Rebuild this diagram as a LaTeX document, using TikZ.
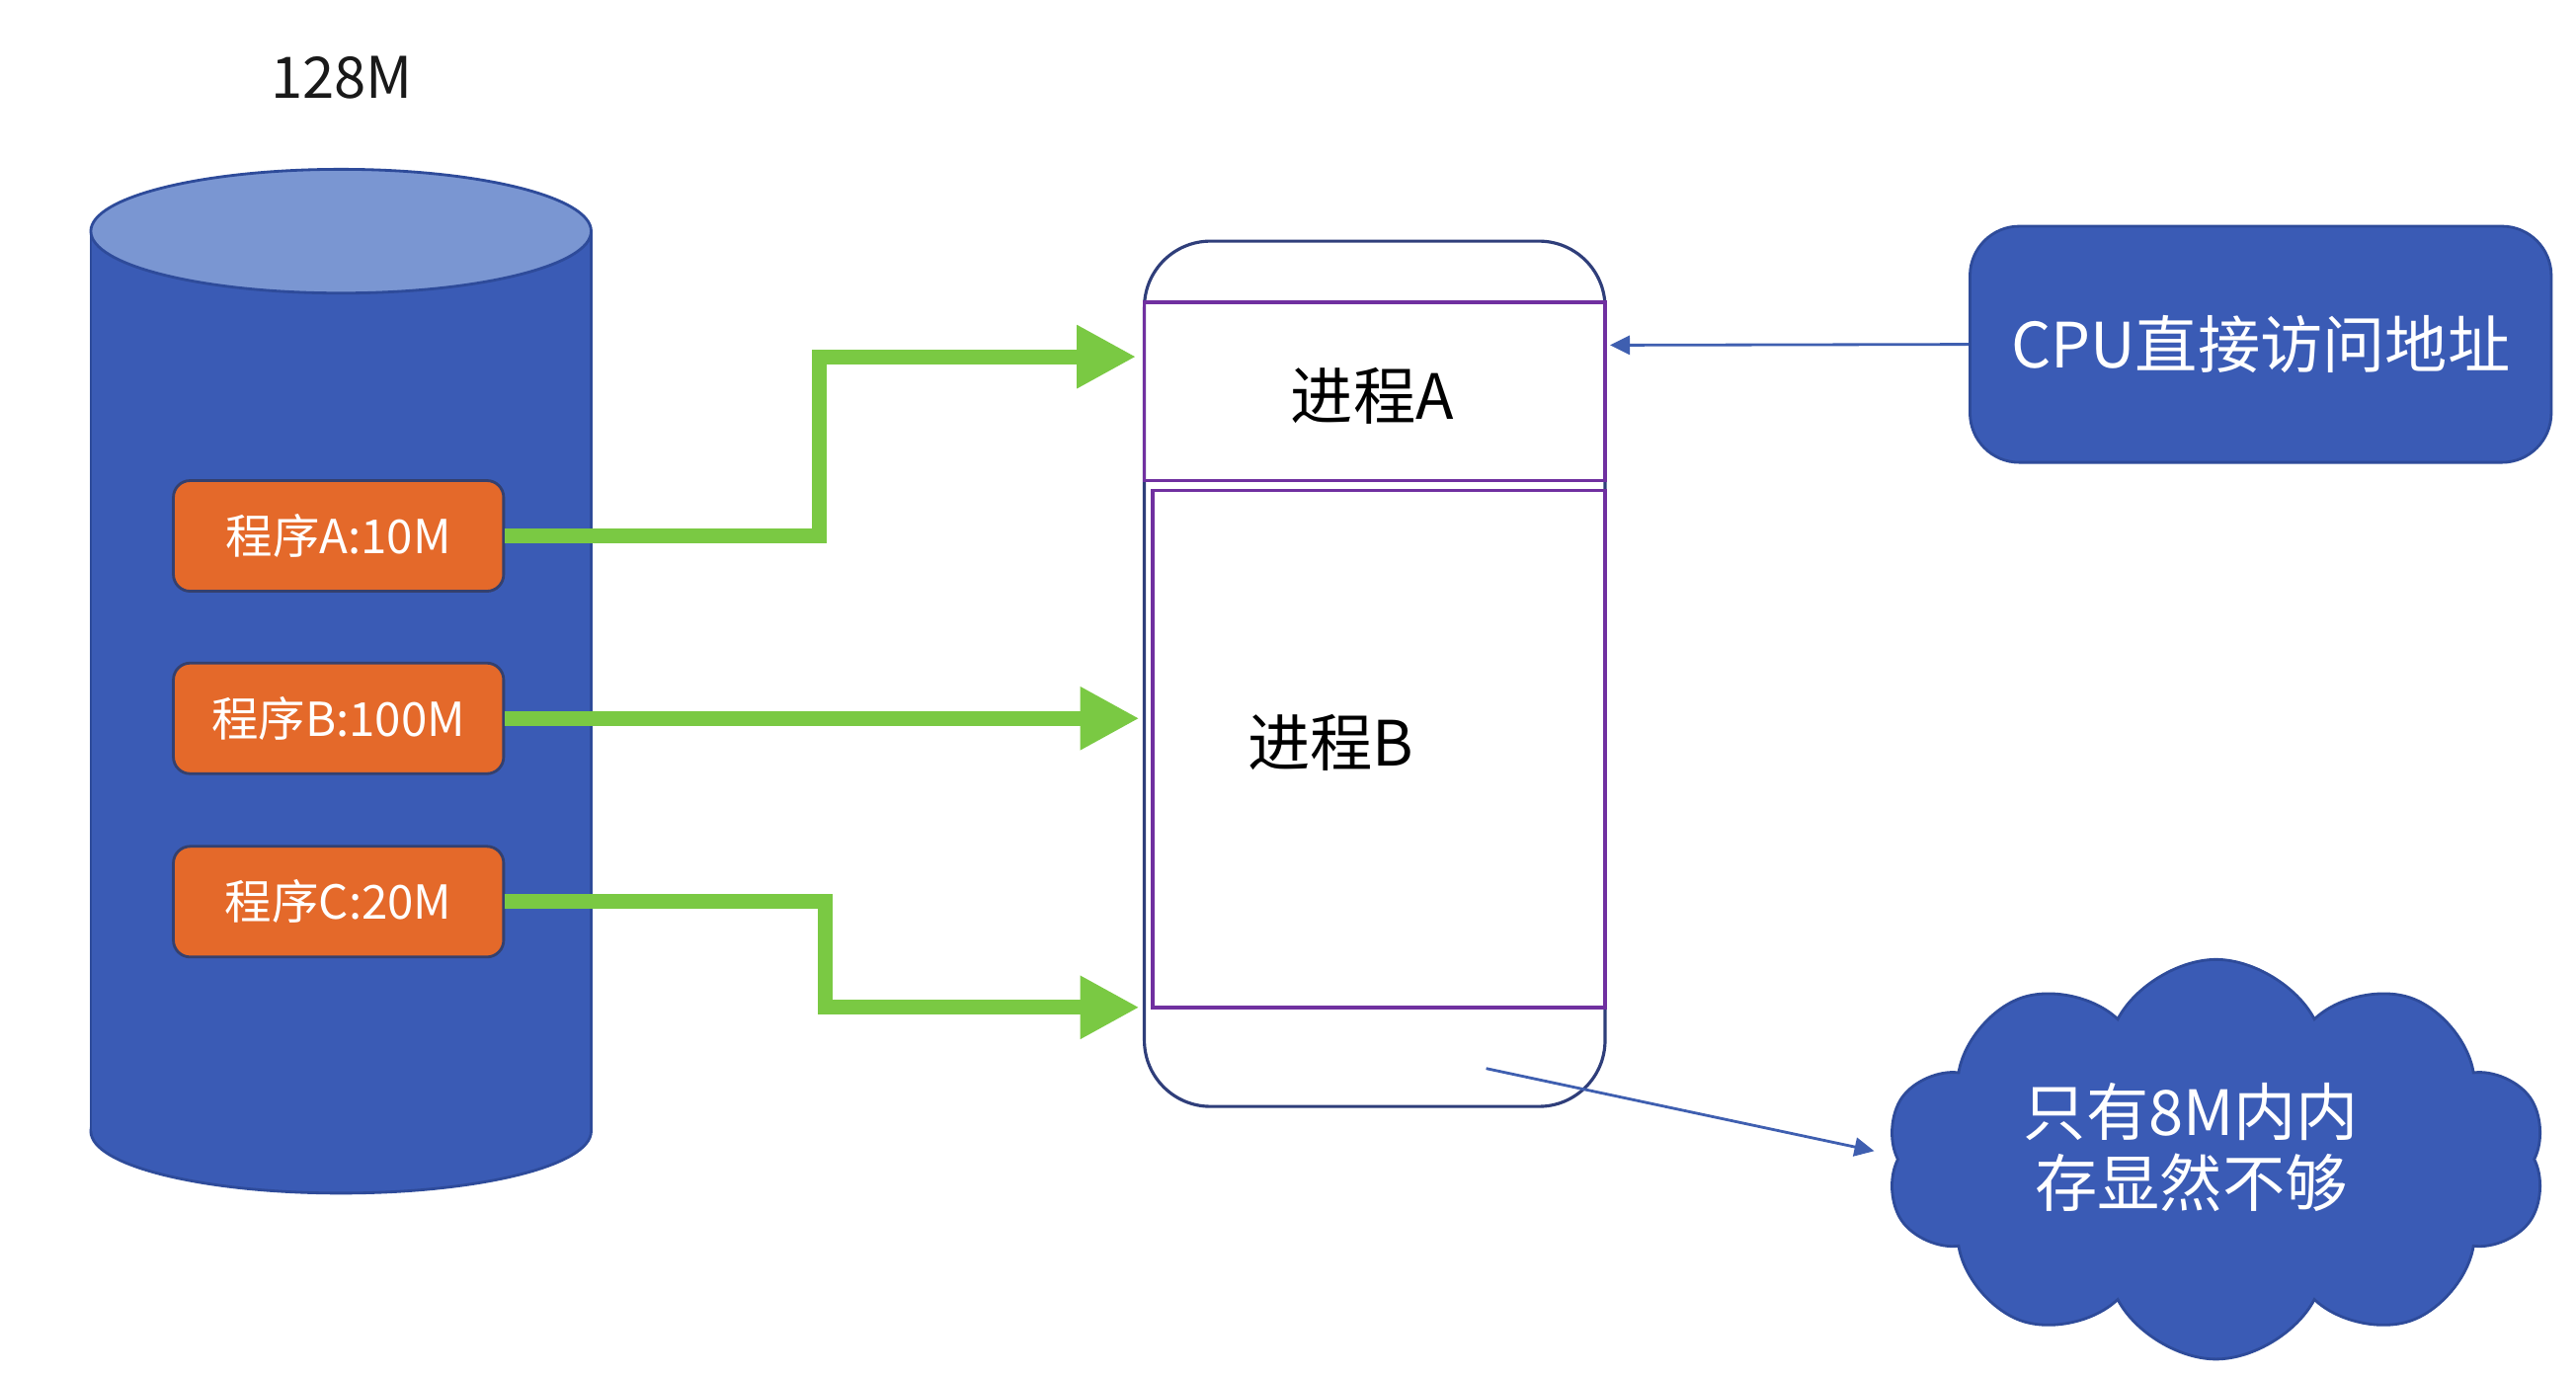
\documentclass[tikz,border=0pt]{standalone}
\usepackage{fontspec}
\setmainfont{Noto Sans CJK SC}
\usetikzlibrary{shapes.symbols,arrows.meta}
\newdimen\ux \ux=0.01672cm
\definecolor{cylblue}{HTML}{3A5BB5}
\definecolor{cyltop}{HTML}{7A96D2}
\definecolor{cylline}{HTML}{2E4B9A}
\definecolor{orangebox}{HTML}{E4692A}
\definecolor{orangeline}{HTML}{34406E}
\definecolor{greenarr}{HTML}{7AC943}
\definecolor{purpleline}{HTML}{7030A0}
\definecolor{memline}{HTML}{2F3E7A}
\definecolor{thinblue}{HTML}{3F5FB0}
\tikzset{
  progbox/.style={draw=orangeline, line width=0.8pt, fill=orangebox, rounded corners=0.17cm,
    minimum width=200\ux, minimum height=67\ux, inner sep=0pt, text=white, font=\fontsize{13.5}{16}\selectfont},
  garrow/.style={draw=greenarr, line width=4.3pt, line join=miter,
    -{Triangle[length=0.6cm,width=0.6cm]}},
  tarrow/.style={draw=thinblue, line width=0.8pt, -{Triangle[length=0.2cm,width=0.19cm]}},
  procbox/.style={draw=purpleline, line width=1pt, inner sep=0pt},
  bigtext/.style={font=\fontsize{18}{20.5}\selectfont}
}
\begin{document}
\begin{tikzpicture}[x=0.01672cm,y=-0.01672cm]
\useasboundingbox (0,0) rectangle (1560,833);
\fill[white] (0,0) rectangle (1560,833);

% title
\node[font=\fontsize{16.5}{20}\selectfont, text=black!90] (title) at (207,47) {128M};

% cylinder
\draw[cylline, line width=0.8pt, fill=cylblue] (206.5,685) ellipse[x radius=151.5, y radius=37.5];
\fill[cylblue] (55,140) rectangle (358,685);
\draw[cylline, line width=0.8pt] (55,140) -- (55,685) (358,140) -- (358,685);
\draw[cylline, line width=0.8pt, fill=cyltop] (206.5,140) ellipse[x radius=151.5, y radius=37.5];

% program boxes
\node[progbox] (pa) at (205,324.5) {程序A:10M};
\node[progbox] (pb) at (205,435) {程序B:100M};
\node[progbox] (pc) at (205,546) {程序C:20M};

% memory
\node[draw=memline, line width=0.9pt, rounded corners=0.67cm, minimum width=279\ux, minimum height=524\ux, inner sep=0pt] (mem) at (832.5,408) {};
\node[procbox, minimum width=279\ux, minimum height=108\ux] (ra) at (832.5,237) {};
\node[procbox, minimum width=274\ux, minimum height=313\ux] (rb) at (835,453.5) {};
\node[bigtext] (ta) at (831,240) {进程A};
\node[bigtext] (tb) at (806,450) {进程B};

% green arrows
\coordinate (ea) at (688,216);
\coordinate (eb) at (690,435);
\coordinate (ec) at (690,610);
\draw[garrow] (pa.east) -| (496,270) |- (ea);
\draw[garrow] (pb.east) -- (eb);
\draw[garrow] (pc.east) -| (500,580) |- (ec);

% CPU box
\node[draw=cylline, line width=0.8pt, fill=cylblue, rounded corners=0.5cm, minimum width=352\ux, minimum height=143\ux,
  inner sep=0pt, text=white, bigtext] (cpu) at (1369,208.5) {CPU直接访问地址};
\coordinate (cpuend) at (975,209);
\draw[tarrow] (cpu.west) -- (cpuend);

% cloud
\node[cloud, cloud puffs=10, cloud puff arc=125, cloud ignores aspect, draw=cylline, line width=0.8pt, fill=cylblue,
  minimum width=400\ux, minimum height=242\ux, inner sep=0pt] (cl) at (1342,702) {};
\node[bigtext, text=white, align=center] (cltext) at (1327,695) {只有8M内内\\存显然不够};
\coordinate (fromfree) at (900,647);
\coordinate (cloudend) at (1135,697);
\draw[tarrow] (fromfree) -- (cloudend);
\end{tikzpicture}
\end{document}
